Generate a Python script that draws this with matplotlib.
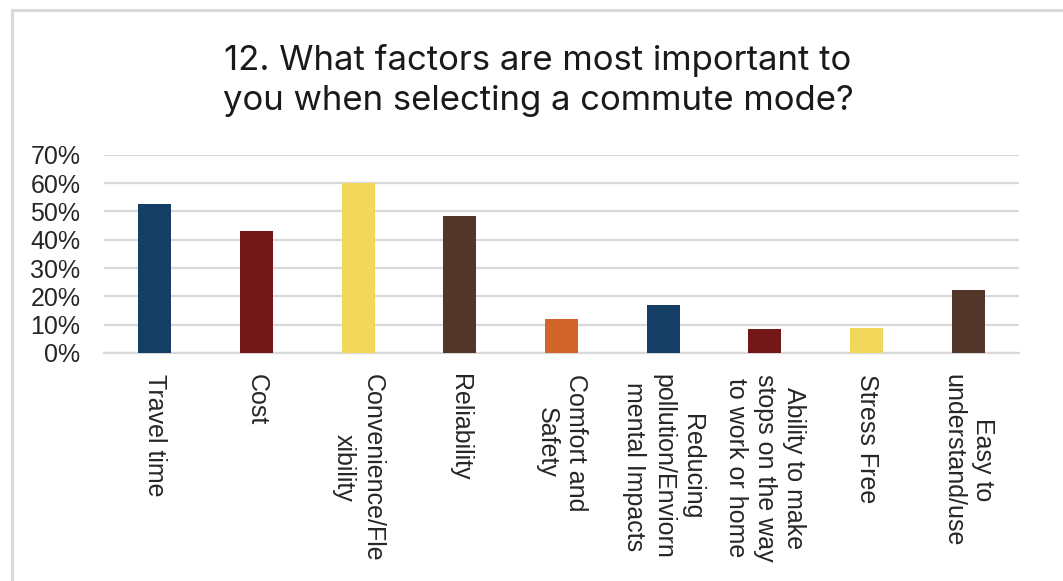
import matplotlib
matplotlib.use("Agg")
import matplotlib.pyplot as plt
from matplotlib.patches import Rectangle
from matplotlib.ticker import PercentFormatter

categories = ["Travel time", "Cost", "Convenience/Fle\nxibility", "Reliability",
              "Comfort and\nSafety", "Reducing\npollution/Enviorn\nmental Impacts",
              "Ability to make\nstops on the way\nto work or home", "Stress Free",
              "Easy to\nunderstand/use"]
values = [52.6, 43.1, 59.9, 48.4, 12.0, 16.9, 8.5, 8.8, 22.2]
bar_colors = ["#153E64", "#741717", "#F1D85A", "#523629", "#D2652B",
              "#153E64", "#741717", "#F1D85A", "#523629"]
title_lines = ["12. What factors are most important to",
               "you when selecting a commute mode?"]
yticks = [0, 10, 20, 30, 40, 50, 60, 70]

W, H = 1063, 581
fig = plt.figure(figsize=(W / 100, H / 100), dpi=100)
fig.patch.set_facecolor("white")

# outer frame
fig.patches.append(Rectangle((12 / W, -0.2), 2.0, 1 - 10 / H + 0.2,
                             transform=fig.transFigure, fill=False,
                             edgecolor="#D9D9D9", linewidth=2.2, zorder=0))

ax = fig.add_axes([104 / W, 1 - 353 / H, (1019 - 104) / W, (353 - 154.7) / H])
x = range(len(categories))
ax.bar(x, values, width=0.325, color=bar_colors, zorder=3)
ax.set_xlim(-0.5, len(categories) - 0.5)
ax.set_ylim(0, 70)
ax.set_yticks(yticks)
ax.yaxis.set_major_formatter(PercentFormatter(decimals=0))
ax.grid(axis="y", color="#D9D9D9", linewidth=1.6, zorder=0)
ax.set_axisbelow(True)
for s in ["top", "right", "left"]:
    ax.spines[s].set_visible(False)
ax.spines["bottom"].set_color("#D9D9D9")
ax.spines["bottom"].set_linewidth(1.6)
ax.tick_params(axis="both", length=0)
ax.tick_params(axis="y", labelsize=18, labelcolor="#262626", pad=17)
ax.set_xticks(list(x))
ax.set_xticklabels(categories, rotation=-90, ha="center", va="top",
                   multialignment="center", fontsize=18, color="#262626",
                   linespacing=1.28)
ax.tick_params(axis="x", pad=15)
for lab in ax.get_yticklabels() + ax.get_xticklabels():
    lab.set_fontfamily("Liberation Sans")

for i, line in enumerate(title_lines):
    fig.text(538 / W, 1 - (70 + 40 * i) / H, line, ha="center", va="baseline",
             fontsize=25, fontfamily="Inter", color="#1A1A1A")

fig.savefig("out.png", dpi=100)
